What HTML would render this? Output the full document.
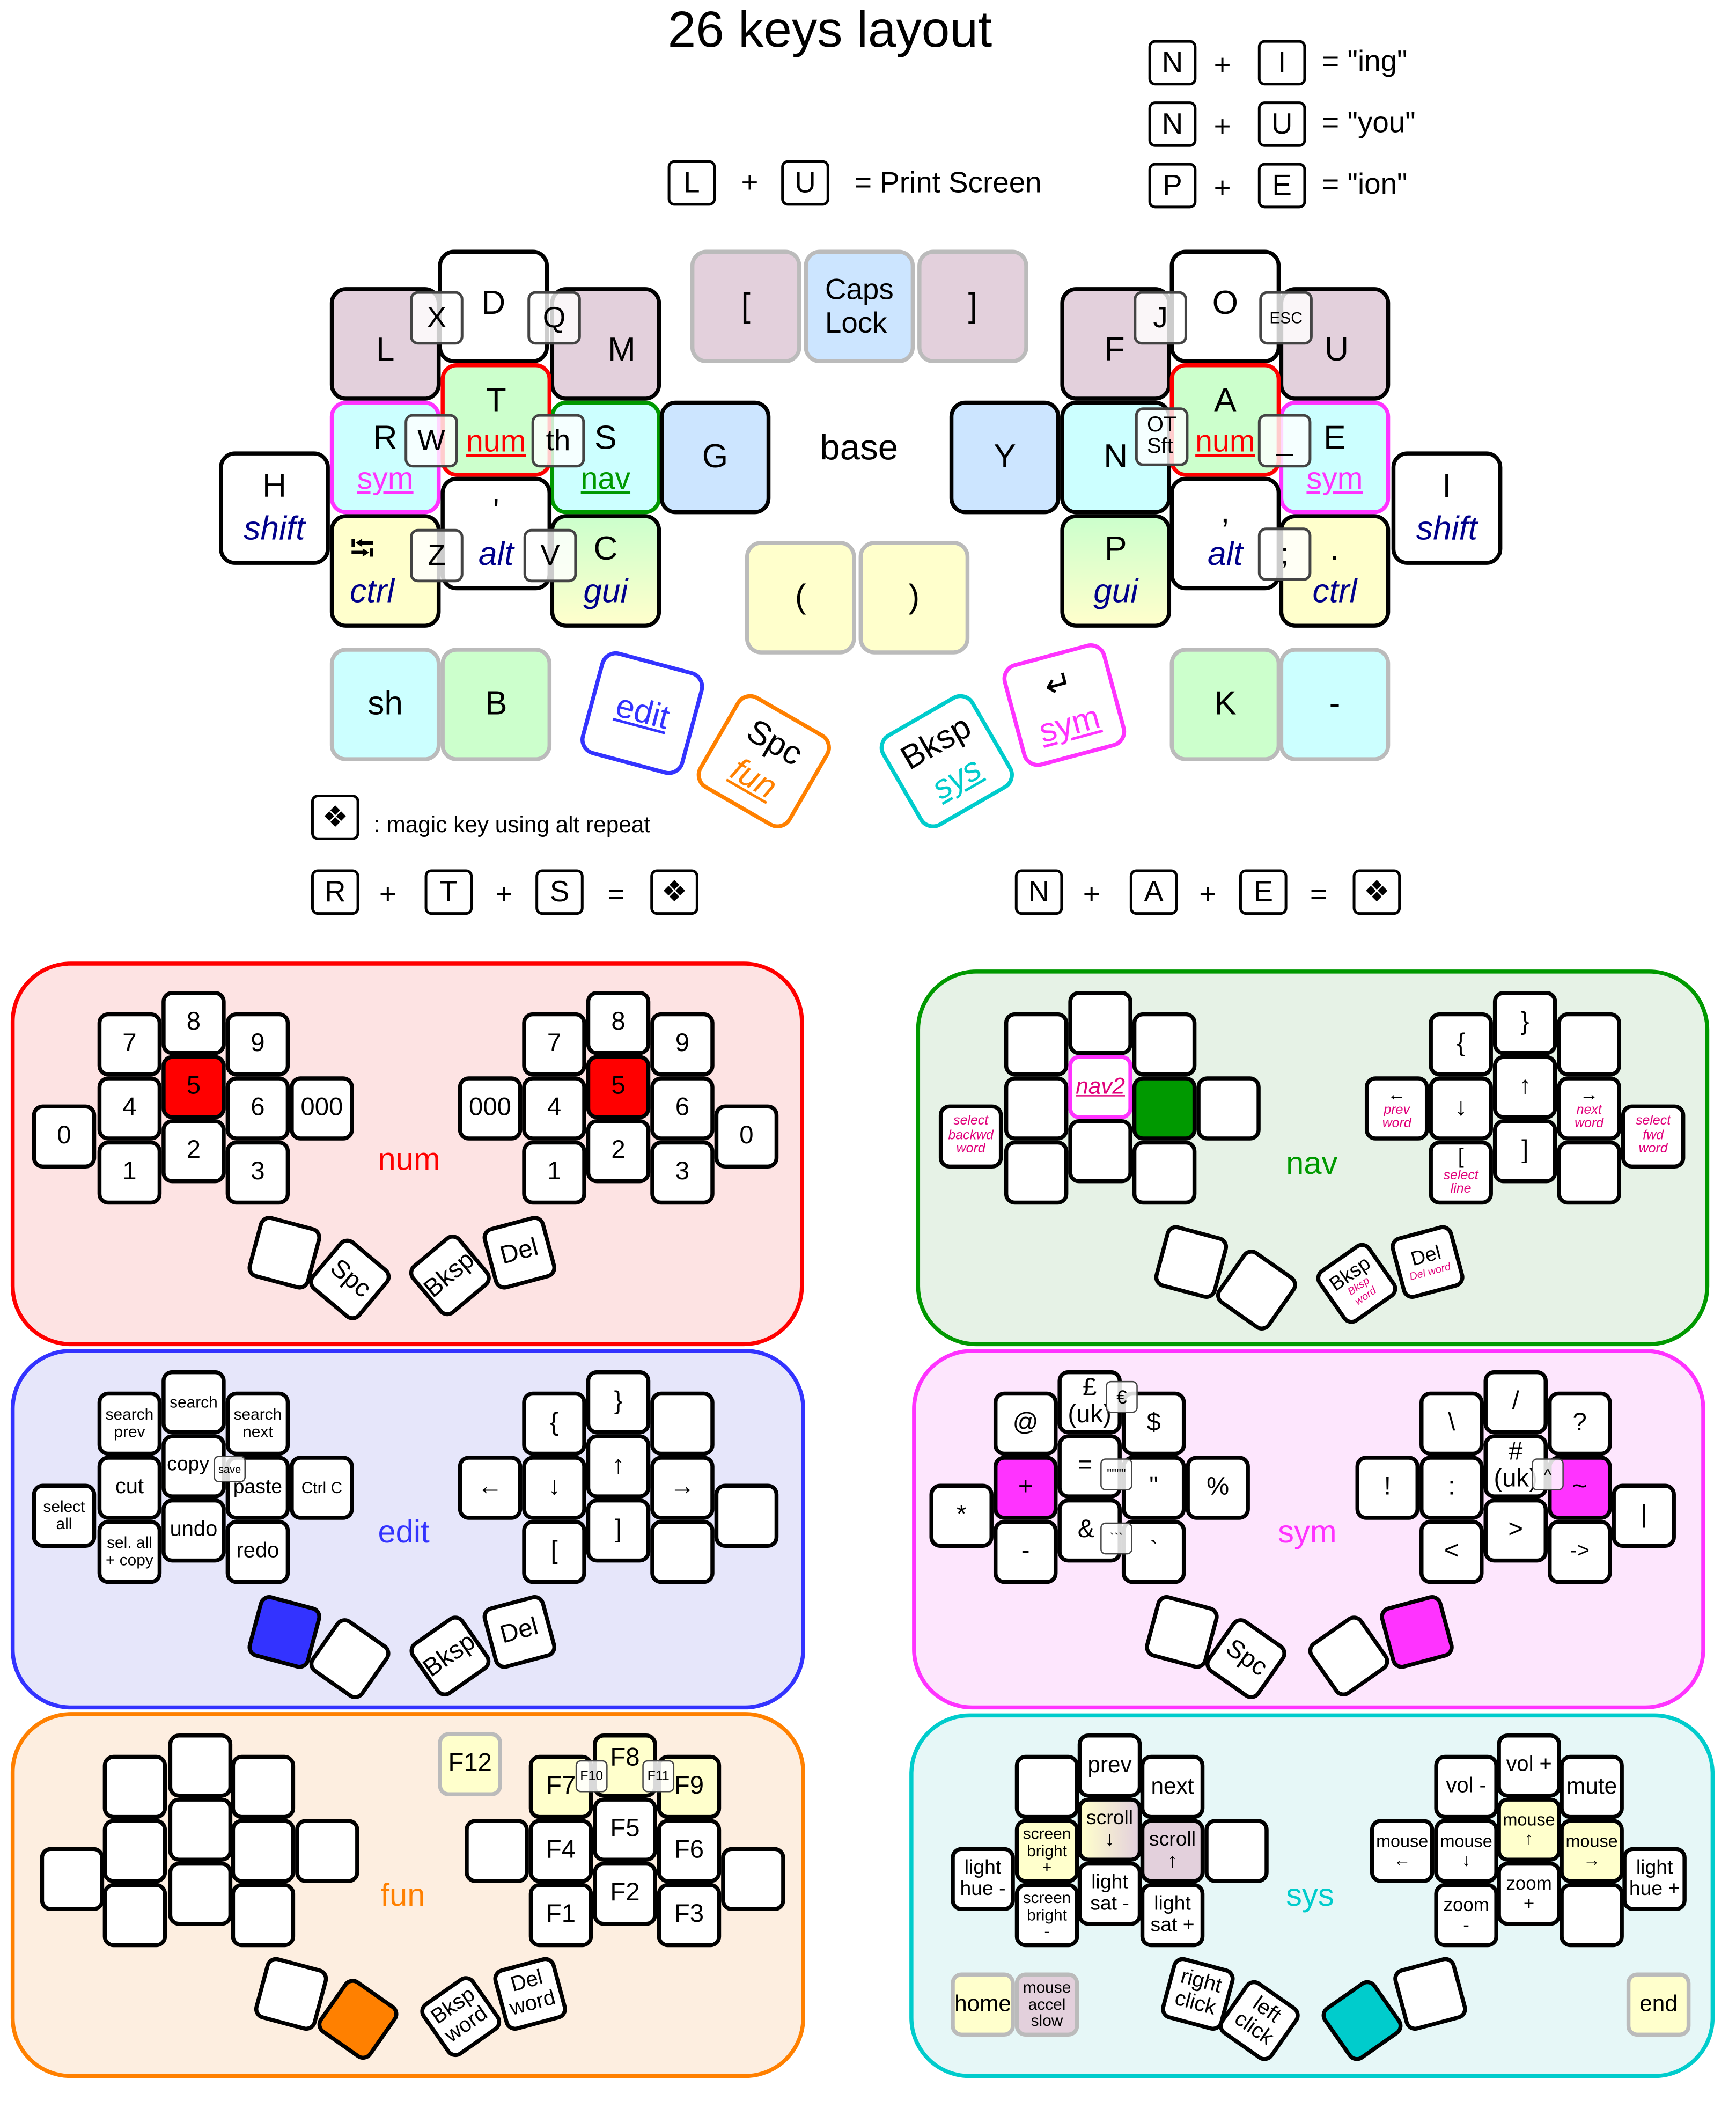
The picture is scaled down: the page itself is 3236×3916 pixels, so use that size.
<!DOCTYPE html>
<html><head><meta charset="utf-8"><style>
html,body{margin:0;padding:0;background:#fff;}
body{width:3236px;height:3916px;overflow:hidden;position:relative;}
#c{position:absolute;left:0;top:0;width:1300px;height:1573px;transform:scale(2.4892);transform-origin:0 0;font-family:"Liberation Sans","DejaVu Sans",sans-serif;}
#c div{position:absolute;box-sizing:border-box;}
.k{width:48px;height:48px;border:3px solid #000;border-radius:8px;background:#fff;display:flex;align-items:center;justify-content:center;text-align:center;font-size:19px;line-height:1.05;}
.s{font-size:12px;}
.t{font-size:10px;color:#e0007a;font-style:italic;}
.b{width:83px;height:85px;border:3.5px solid #000;border-radius:12px;background:#fff;display:flex;flex-direction:column;align-items:center;justify-content:center;font-size:25px;line-height:1.25;}
.g{border-color:#bbb;}
.o{width:40px;height:40px;border:2px solid #444;border-radius:6px;background:rgba(255,255,255,.8);display:flex;align-items:center;justify-content:center;font-size:22px;}
.ov{width:24px;height:24px;border:1.5px solid #444;border-radius:4px;background:rgba(255,255,255,.85);display:flex;align-items:center;justify-content:center;font-size:9px;}
.cb{width:36px;height:34px;border:2px solid #000;border-radius:5px;display:flex;align-items:center;justify-content:center;font-size:22px;background:#fff;}
.tx{font-size:22px;white-space:nowrap;}
.m{background:#e3d0dc;}.gr{background:#ccffcc;}.cy{background:#ccffff;}.bl{background:#cce5ff;}.ye{background:#ffffcc;}.gy{background:linear-gradient(#ccffcc,#ffffcc);}
.i{font-style:italic;color:#00008b;}
.p{border-radius:45px;border-width:3px;border-style:solid;}
.lab{font-size:24px;}
</style></head><body><div id="c">
<div class="tx" style="left:500px;top:2px;font-size:38px;">26 keys layout</div>
<div class="cb" style="left:860px;top:30px">N</div><div class="tx" style="left:909px;top:36px">+</div><div class="cb" style="left:942px;top:30px">I</div><div class="tx" style="left:990px;top:33px">= "ing"</div>
<div class="cb" style="left:860px;top:76px">N</div><div class="tx" style="left:909px;top:82px">+</div><div class="cb" style="left:942px;top:76px">U</div><div class="tx" style="left:990px;top:79px">= "you"</div>
<div class="cb" style="left:860px;top:122px">P</div><div class="tx" style="left:909px;top:128px">+</div><div class="cb" style="left:942px;top:122px">E</div><div class="tx" style="left:990px;top:125px">= "ion"</div>
<div class="cb" style="left:500px;top:120px">L</div><div class="tx" style="left:555px;top:124px">+</div><div class="cb" style="left:585px;top:120px">U</div><div class="tx" style="left:640px;top:124px">= Print Screen</div>

<!-- base left -->
<div class="b m" style="left:247px;top:215px;padding-top:10px">L</div>
<div class="b m" style="left:412px;top:215px;padding:10px 0 0 0;align-items:flex-end;padding-right:16px">M</div>
<div class="b" style="left:328px;top:187px;justify-content:flex-start;padding-top:22px">D</div>
<div class="o" style="left:307px;top:218px">X</div>
<div class="o" style="left:395px;top:218px">Q</div>
<div class="b cy" style="left:247px;top:300px;border-color:#ff33ff">R<span style="color:#ff33ff;text-decoration:underline;font-size:23px">sym</span></div>
<div class="b cy" style="left:412px;top:300px;border-color:#009900">S<span style="color:#009900;text-decoration:underline;font-size:23px">nav</span></div>
<div class="b gr" style="left:330px;top:272px;border-color:#ff0000">T<span style="color:#ff0000;text-decoration:underline;font-size:23px">num</span></div>
<div class="o" style="left:303px;top:310px">W</div>
<div class="o" style="left:398px;top:310px">th</div>
<div class="b bl" style="left:494px;top:300px">G</div>
<div class="b" style="left:164px;top:338px">H<span class="i">shift</span></div>
<div class="b ye" style="left:247px;top:385px;align-items:flex-start;padding-left:12px">⭾<span class="i">ctrl</span></div>
<div class="b" style="left:330px;top:357px">'<span class="i">alt</span></div>
<div class="b gy" style="left:412px;top:385px">C<span class="i">gui</span></div>
<div class="o" style="left:307px;top:396px">Z</div>
<div class="o" style="left:392px;top:396px">V</div>

<div class="b m g" style="left:517px;top:187px">[</div>
<div class="b bl g" style="left:602px;top:187px;font-size:22px;line-height:1.1">Caps<br>Lock</div>
<div class="b m g" style="left:687px;top:187px">]</div>
<div class="tx" style="left:614px;top:320px;font-size:27px">base</div>
<div class="b ye g" style="left:558px;top:405px">(</div>
<div class="b ye g" style="left:643px;top:405px">)</div>
<div class="b cy g" style="left:247px;top:485px">sh</div>
<div class="b gr g" style="left:330px;top:485px">B</div>
<div class="b" style="left:441px;top:494px;width:80px;height:80px;border-color:#3333ff;transform:rotate(15deg);color:#3333ff"><span style="text-decoration:underline">edit</span></div>
<div class="b" style="left:532px;top:530px;width:80px;height:80px;border-color:#ff8000;transform:rotate(30deg)">Spc<span style="color:#ff8000;text-decoration:underline;font-style:italic">fun</span></div>
<div class="b" style="left:669px;top:530px;width:80px;height:80px;border-color:#00cccc;transform:rotate(-30deg)">Bksp<span style="color:#00cccc;text-decoration:underline;font-style:italic">sys</span></div>
<div class="b" style="left:757px;top:488px;width:80px;height:80px;border-color:#ff33ff;transform:rotate(-15deg)">↵<span style="color:#ff33ff;text-decoration:underline">sym</span></div>

<!-- base right -->
<div class="b m" style="left:794px;top:215px;padding-top:10px;align-items:flex-start;padding-left:30px">F</div>
<div class="b m" style="left:958px;top:215px;padding-top:10px;align-items:flex-end;padding-right:28px">U</div>
<div class="b" style="left:876px;top:187px;justify-content:flex-start;padding-top:22px">O</div>
<div class="o" style="left:849px;top:218px">J</div>
<div class="o" style="left:943px;top:218px;font-size:12px">ESC</div>
<div class="b cy" style="left:794px;top:300px">N</div>
<div class="b cy" style="left:958px;top:300px;border-color:#ff33ff">E<span style="color:#ff33ff;text-decoration:underline;font-size:23px">sym</span></div>
<div class="b gr" style="left:876px;top:272px;border-color:#ff0000">A<span style="color:#ff0000;text-decoration:underline;font-size:23px">num</span></div>
<div class="o" style="left:850px;top:305px;height:44px;font-size:16px;line-height:1">OT<br>Sft</div>
<div class="o" style="left:942px;top:310px">_</div>
<div class="b bl" style="left:711px;top:300px">Y</div>
<div class="b" style="left:1042px;top:338px">I<span class="i">shift</span></div>
<div class="b gy" style="left:794px;top:385px">P<span class="i">gui</span></div>
<div class="b" style="left:876px;top:357px">,<span class="i">alt</span></div>
<div class="b ye" style="left:958px;top:385px">.<span class="i">ctrl</span></div>
<div class="o" style="left:942px;top:395px">;</div>
<div class="b gr g" style="left:876px;top:485px">K</div>
<div class="b cy g" style="left:958px;top:485px">-</div>

<div class="cb" style="left:233px;top:595px">❖</div><div class="tx" style="left:280px;top:608px;font-size:17px">: magic key using alt repeat</div>
<div class="cb" style="left:233px;top:651px">R</div><div class="tx" style="left:284px;top:657px">+</div><div class="cb" style="left:318px;top:651px">T</div><div class="tx" style="left:371px;top:657px">+</div><div class="cb" style="left:401px;top:651px">S</div><div class="tx" style="left:455px;top:657px">=</div><div class="cb" style="left:487px;top:651px">❖</div>
<div class="cb" style="left:760px;top:651px">N</div><div class="tx" style="left:811px;top:657px">+</div><div class="cb" style="left:846px;top:651px">A</div><div class="tx" style="left:898px;top:657px">+</div><div class="cb" style="left:928px;top:651px">E</div><div class="tx" style="left:981px;top:657px">=</div><div class="cb" style="left:1013px;top:651px">❖</div>

<!-- panels -->
<div class="p" style="left:8px;top:720px;width:594px;height:288px;border-color:#ff0000;background:#fde3e3"></div>
<div class="p" style="left:686px;top:726px;width:594px;height:282px;border-color:#009900;background:#e6f2e6"></div>
<div class="p" style="left:8px;top:1010px;width:595px;height:270px;border-color:#3333ff;background:#e6e6fa"></div>
<div class="p" style="left:683px;top:1010px;width:594px;height:270px;border-color:#ff33ff;background:#fde6fd"></div>
<div class="p" style="left:8px;top:1282px;width:595px;height:274px;border-color:#ff8000;background:#fdeee0"></div>
<div class="p" style="left:681px;top:1283px;width:603px;height:273px;border-color:#00cccc;background:#e6f7f7"></div>

<!-- num -->
<div class="k" style="left:73px;top:758px">7</div><div class="k" style="left:121px;top:742px">8</div><div class="k" style="left:169px;top:758px">9</div>
<div class="k" style="left:73px;top:806px">4</div><div class="k" style="left:121px;top:790px;background:#ff0000">5</div><div class="k" style="left:169px;top:806px">6</div><div class="k" style="left:217px;top:806px">000</div>
<div class="k" style="left:24px;top:827px">0</div><div class="k" style="left:73px;top:854px">1</div><div class="k" style="left:121px;top:838px">2</div><div class="k" style="left:169px;top:854px">3</div>
<div class="k" style="left:343px;top:806px">000</div><div class="k" style="left:391px;top:758px">7</div><div class="k" style="left:439px;top:742px">8</div><div class="k" style="left:487px;top:758px">9</div>
<div class="k" style="left:391px;top:806px">4</div><div class="k" style="left:439px;top:790px;background:#ff0000">5</div><div class="k" style="left:487px;top:806px">6</div><div class="k" style="left:535px;top:827px">0</div>
<div class="k" style="left:391px;top:854px">1</div><div class="k" style="left:439px;top:838px">2</div><div class="k" style="left:487px;top:854px">3</div>
<div class="lab" style="left:283px;top:855px;color:#ff0000">num</div>
<div class="k" style="left:189px;top:914px;transform:rotate(15deg)"></div>
<div class="k" style="left:238px;top:934px;transform:rotate(40deg)">Spc</div>
<div class="k" style="left:313px;top:931px;transform:rotate(-40deg)">Bksp</div>
<div class="k" style="left:365px;top:914px;transform:rotate(-15deg)">Del</div>

<!-- nav -->
<div class="k" style="left:752px;top:758px"></div><div class="k" style="left:800px;top:742px"></div><div class="k" style="left:848px;top:758px"></div>
<div class="k" style="left:752px;top:806px"></div><div class="k" style="left:800px;top:790px;border-color:#ff33ff;color:#e0007a;font-size:17px;font-style:italic"><u>nav2</u></div><div class="k" style="left:848px;top:806px;background:#009900"></div><div class="k" style="left:896px;top:806px"></div>
<div class="k t" style="left:703px;top:827px">select<br>backwd<br>word</div><div class="k" style="left:752px;top:854px"></div><div class="k" style="left:800px;top:838px"></div><div class="k" style="left:848px;top:854px"></div>
<div class="k" style="left:1022px;top:806px;flex-direction:column"><span style="font-size:14px">←</span><span class="t">prev<br>word</span></div>
<div class="k" style="left:1070px;top:758px">{</div><div class="k" style="left:1118px;top:742px">}</div><div class="k" style="left:1166px;top:758px"></div>
<div class="k" style="left:1070px;top:806px">↓</div><div class="k" style="left:1118px;top:790px">↑</div><div class="k" style="left:1166px;top:806px;flex-direction:column"><span style="font-size:14px">→</span><span class="t">next<br>word</span></div>
<div class="k t" style="left:1214px;top:827px">select<br>fwd<br>word</div>
<div class="k" style="left:1070px;top:854px;flex-direction:column"><span style="font-size:16px;color:#000;font-style:normal">[</span><span class="t">select<br>line</span></div><div class="k" style="left:1118px;top:838px">]</div><div class="k" style="left:1166px;top:854px"></div>
<div class="lab" style="left:963px;top:858px;color:#009900">nav</div>
<div class="k" style="left:868px;top:921px;transform:rotate(15deg)"></div>
<div class="k" style="left:917px;top:942px;transform:rotate(35deg)"></div>
<div class="k" style="left:992px;top:937px;transform:rotate(-35deg);flex-direction:column;font-size:15px">Bksp<span class="t" style="font-size:8px">Bksp<br>word</span></div>
<div class="k" style="left:1045px;top:921px;transform:rotate(-15deg);flex-direction:column;font-size:15px">Del<span class="t" style="font-size:8px">Del word</span></div>

<!-- edit -->
<div class="k s" style="left:73px;top:1042px">search<br>prev</div><div class="k s" style="left:121px;top:1026px">search</div><div class="k s" style="left:169px;top:1042px">search<br>next</div>
<div class="k" style="left:73px;top:1090px;font-size:16px">cut</div><div class="k" style="left:121px;top:1074px;font-size:15px;align-items:flex-start;justify-content:flex-start;padding:12px 0 0 1px">copy</div><div class="k" style="left:169px;top:1090px;font-size:15px">paste</div><div class="k s" style="left:217px;top:1090px">Ctrl C</div>
<div class="ov" style="left:160px;top:1090px;width:24px;height:20px;font-size:8px">save</div>
<div class="k s" style="left:24px;top:1111px">select<br>all</div><div class="k s" style="left:73px;top:1138px">sel. all<br>+ copy</div><div class="k" style="left:121px;top:1122px;font-size:16px">undo</div><div class="k" style="left:169px;top:1138px;font-size:16px">redo</div>
<div class="k" style="left:343px;top:1090px">←</div><div class="k" style="left:391px;top:1042px">{</div><div class="k" style="left:439px;top:1026px">}</div><div class="k" style="left:487px;top:1042px"></div>
<div class="k" style="left:391px;top:1090px">↓</div><div class="k" style="left:439px;top:1074px">↑</div><div class="k" style="left:487px;top:1090px">→</div><div class="k" style="left:535px;top:1111px"></div>
<div class="k" style="left:391px;top:1138px">[</div><div class="k" style="left:439px;top:1122px">]</div><div class="k" style="left:487px;top:1138px"></div>
<div class="lab" style="left:283px;top:1134px;color:#3333ff">edit</div>
<div class="k" style="left:189px;top:1198px;transform:rotate(15deg);background:#3333ff"></div>
<div class="k" style="left:238px;top:1218px;transform:rotate(35deg)"></div>
<div class="k" style="left:313px;top:1216px;transform:rotate(-35deg)">Bksp</div>
<div class="k" style="left:365px;top:1198px;transform:rotate(-15deg)">Del</div>

<!-- sym -->
<div class="k" style="left:744px;top:1042px">@</div><div class="k" style="left:792px;top:1026px;line-height:1.05">£<br>(uk)</div><div class="k" style="left:840px;top:1042px">$</div>
<div class="ov" style="left:828px;top:1034px;font-size:14px">€</div>
<div class="k" style="left:744px;top:1090px;background:#ff33ff">+</div><div class="k" style="left:792px;top:1074px;justify-content:flex-start;padding-left:12px">=</div><div class="k" style="left:840px;top:1090px">"</div><div class="k" style="left:888px;top:1090px">%</div>
<div class="ov" style="left:824px;top:1092px;font-size:10px">""""</div>
<div class="k" style="left:696px;top:1111px">*</div>
<div class="k" style="left:744px;top:1138px">-</div><div class="k" style="left:792px;top:1122px;justify-content:flex-start;padding-left:12px">&amp;</div><div class="k" style="left:840px;top:1138px">&#96;</div>
<div class="ov" style="left:824px;top:1140px;font-size:10px">&#96;&#96;&#96;</div>
<div class="k" style="left:1015px;top:1090px">!</div><div class="k" style="left:1063px;top:1042px">\</div><div class="k" style="left:1111px;top:1026px">/</div><div class="k" style="left:1159px;top:1042px">?</div>
<div class="k" style="left:1063px;top:1090px">:</div><div class="k" style="left:1111px;top:1074px;line-height:1.05">#<br>(uk)</div><div class="k" style="left:1159px;top:1090px;background:#ff33ff">~</div><div class="k" style="left:1207px;top:1111px">|</div>
<div class="ov" style="left:1147px;top:1092px;font-size:13px">^</div>
<div class="k" style="left:1063px;top:1138px">&lt;</div><div class="k" style="left:1111px;top:1122px">&gt;</div><div class="k" style="left:1159px;top:1138px;font-size:16px">-&gt;</div>
<div class="lab" style="left:957px;top:1134px;color:#ff33ff">sym</div>
<div class="k" style="left:861px;top:1198px;transform:rotate(15deg)"></div>
<div class="k" style="left:909px;top:1218px;transform:rotate(35deg)">Spc</div>
<div class="k" style="left:986px;top:1216px;transform:rotate(-35deg)"></div>
<div class="k" style="left:1037px;top:1198px;transform:rotate(-15deg);background:#ff33ff"></div>

<!-- fun -->
<div class="k" style="left:77px;top:1314px"></div><div class="k" style="left:126px;top:1298px"></div><div class="k" style="left:173px;top:1314px"></div>
<div class="k" style="left:77px;top:1362px"></div><div class="k" style="left:126px;top:1346px"></div><div class="k" style="left:173px;top:1362px"></div><div class="k" style="left:221px;top:1362px"></div>
<div class="k" style="left:30px;top:1383px"></div><div class="k" style="left:77px;top:1410px"></div><div class="k" style="left:126px;top:1394px"></div><div class="k" style="left:173px;top:1410px"></div>
<div class="k ye g" style="left:328px;top:1297px">F12</div>
<div class="k" style="left:348px;top:1362px"></div><div class="k ye" style="left:396px;top:1314px;justify-content:flex-start;padding-left:10px">F7</div><div class="k ye" style="left:444px;top:1298px;align-items:flex-start;padding-top:6px">F8</div><div class="k ye" style="left:492px;top:1314px">F9</div>
<div class="ov" style="left:431px;top:1318px;font-size:10px">F10</div><div class="ov" style="left:481px;top:1318px;font-size:10px">F11</div>
<div class="k" style="left:396px;top:1362px">F4</div><div class="k" style="left:444px;top:1346px">F5</div><div class="k" style="left:492px;top:1362px">F6</div><div class="k" style="left:540px;top:1383px"></div>
<div class="k" style="left:396px;top:1410px">F1</div><div class="k" style="left:444px;top:1394px">F2</div><div class="k" style="left:492px;top:1410px">F3</div>
<div class="lab" style="left:285px;top:1406px;color:#ff8000">fun</div>
<div class="k" style="left:194px;top:1469px;transform:rotate(15deg)"></div>
<div class="k" style="left:244px;top:1488px;transform:rotate(35deg);background:#ff8000"></div>
<div class="k" style="left:321px;top:1486px;transform:rotate(-35deg);font-size:16px">Bksp<br>word</div>
<div class="k" style="left:373px;top:1469px;transform:rotate(-15deg);font-size:16px">Del<br>word</div>

<!-- sys -->
<div class="k" style="left:760px;top:1314px"></div><div class="k" style="left:807px;top:1298px;font-size:17px">prev</div><div class="k" style="left:854px;top:1314px;font-size:17px">next</div>
<div class="k s ye" style="left:760px;top:1362px">screen<br>bright<br>+</div><div class="k ye" style="left:807px;top:1346px;font-size:15px;background:linear-gradient(90deg,#ffffcc,#e3d0dc)">scroll<br>↓</div><div class="k m" style="left:854px;top:1362px;font-size:15px">scroll<br>↑</div><div class="k" style="left:902px;top:1362px"></div>
<div class="k" style="left:712px;top:1383px;font-size:15px">light<br>hue -</div><div class="k s" style="left:760px;top:1410px">screen<br>bright<br>-</div><div class="k" style="left:807px;top:1394px;font-size:15px">light<br>sat -</div><div class="k" style="left:854px;top:1410px;font-size:15px">light<br>sat +</div>
<div class="k s" style="left:1026px;top:1362px;font-size:13px">mouse<br>←</div><div class="k" style="left:1074px;top:1314px;font-size:16px">vol -</div><div class="k" style="left:1121px;top:1298px;font-size:16px">vol +</div><div class="k" style="left:1168px;top:1314px;font-size:17px">mute</div>
<div class="k s" style="left:1074px;top:1362px;font-size:13px">mouse<br>↓</div><div class="k s ye" style="left:1121px;top:1346px;font-size:13px">mouse<br>↑</div><div class="k s ye" style="left:1168px;top:1362px;font-size:13px">mouse<br>→</div><div class="k" style="left:1215px;top:1383px;font-size:15px">light<br>hue +</div>
<div class="k" style="left:1074px;top:1410px;font-size:14px">zoom<br>-</div><div class="k" style="left:1121px;top:1394px;font-size:14px">zoom<br>+</div><div class="k" style="left:1168px;top:1410px"></div>
<div class="lab" style="left:963px;top:1406px;color:#00cccc">sys</div>
<div class="k ye g" style="left:712px;top:1477px;font-size:17px">home</div>
<div class="k m g s" style="left:760px;top:1477px">mouse<br>accel<br>slow</div>
<div class="k ye g" style="left:1218px;top:1477px;font-size:17px">end</div>
<div class="k" style="left:873px;top:1469px;transform:rotate(15deg);font-size:16px">right<br>click</div>
<div class="k" style="left:919px;top:1489px;transform:rotate(35deg);font-size:16px">left<br>click</div>
<div class="k" style="left:996px;top:1489px;transform:rotate(-35deg);background:#00cccc"></div>
<div class="k" style="left:1047px;top:1469px;transform:rotate(-15deg)"></div>
</div></body></html>
